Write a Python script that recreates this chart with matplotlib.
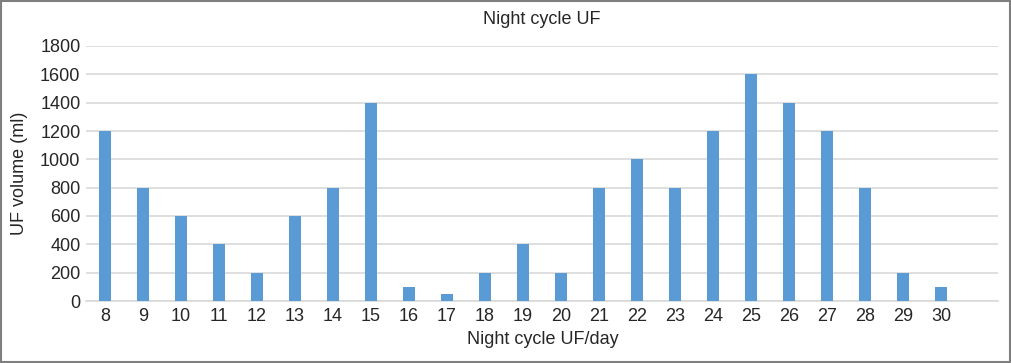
import matplotlib
matplotlib.use("Agg")
import matplotlib.pyplot as plt
from matplotlib.patches import Rectangle

plt.rcParams['font.family'] = ['Liberation Sans', 'DejaVu Sans']

days = ['8', '9', '10', '11', '12', '13', '14', '15', '16', '17', '18', '19',
        '20', '21', '22', '23', '24', '25', '26', '27', '28', '29', '30', '']
uf_volume = [1200, 800, 600, 400, 200, 600, 800, 1400, 100, 50, 200, 400,
             200, 800, 1000, 800, 1200, 1600, 1400, 1200, 800, 200, 100, 0]
yticks = [0, 200, 400, 600, 800, 1000, 1200, 1400, 1600, 1800]

fig = plt.figure(figsize=(10.11, 3.63), dpi=100)
ax = fig.add_axes([86/1011, 1-301/363, (998-86)/1011, (301-46)/363])

x = list(range(len(days)))
ax.bar(x, uf_volume, width=0.32, color='#5B9BD5', zorder=3)

ax.set_xlim(-0.5, len(days)-0.5)
ax.set_ylim(0, 1800)
ax.set_yticks(yticks)
ax.set_xticks(x)
ax.set_xticklabels(days)
ax.grid(axis='y', color='#D9D9D9', linewidth=1.2, zorder=0)
for s in ['top', 'right', 'left']:
    ax.spines[s].set_visible(False)
ax.spines['bottom'].set_color('#D9D9D9')
ax.spines['bottom'].set_linewidth(1.2)
ax.tick_params(axis='both', length=0, labelsize=13, colors='#262626')
ax.tick_params(axis='x', pad=5)
ax.tick_params(axis='y', pad=4)

fig.text(542/1011, 1-20/363, 'Night cycle UF', ha='center', va='center', fontsize=13, color='#262626')
fig.text(543/1011, 1-340/363, 'Night cycle UF/day', ha='center', va='center', fontsize=13, color='#262626')
fig.text(20/1011, 1-173/363, 'UF volume (ml)', ha='center', va='center', rotation=90, fontsize=13, color='#262626')

fig.patches.append(Rectangle((0.001, 0.002), 0.998, 0.996, transform=fig.transFigure,
                             fill=False, edgecolor='#7F7F7F', linewidth=1.5))

fig.savefig('out.png', dpi=100)
